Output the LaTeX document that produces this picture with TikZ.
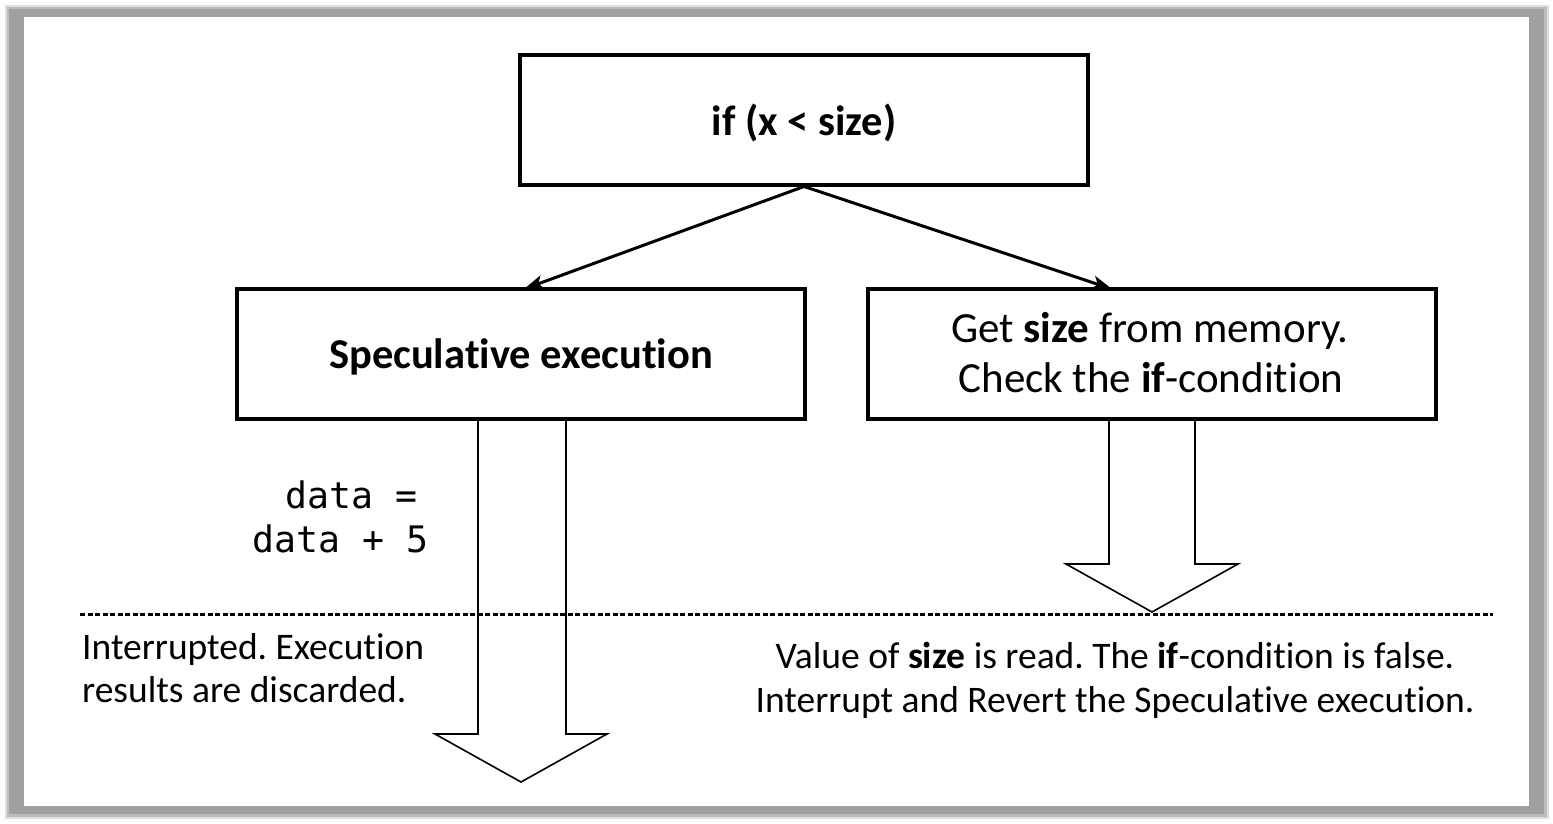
\documentclass[tikz,border=0pt]{standalone}
\usepackage{fontspec}
\setmainfont{Carlito}[Ligatures=NoCommon]
\newfontfamily\codefont{DejaVu Sans Mono}
\usetikzlibrary{arrows.meta,calc}
\definecolor{framegray}{RGB}{160,160,160}
\frenchspacing
\tikzset{
  box/.style={draw=black, line width=4pt, fill=white, minimum width=568pt, minimum height=130pt, inner sep=0pt},
  big/.style={font=\fontsize{43}{50}\selectfont},
  bigbold/.style={font=\fontsize{42.5}{50}\selectfont\bfseries},
  small/.style={font=\fontsize{37.5}{44}\selectfont},
  code/.style={font=\codefont\fontsize{36.5}{44}\selectfont, inner sep=0pt, anchor=base west},
  conn/.style={line width=3pt, -{Stealth[length=20pt,width=14pt,inset=5pt]}},
  blockarrow/.style={line width=1.6pt, line join=miter},
  sep/.style={line width=3pt, dash pattern=on 5pt off 2.5pt},
  txt/.style={inner sep=0pt, text=black}
}
\begin{document}
\begin{tikzpicture}[x=1pt,y=-1pt]
\useasboundingbox (0,0) rectangle (1553,823);
% frame with soft shadow
\fill[framegray!35] (5,5) rectangle (1549,819);
\fill[framegray!70] (7,7) rectangle (1547,817);
\fill[framegray] (9,9) rectangle (1544,814);
\fill[white] (24,17) rectangle (1529,806);

% boxes
\node[box] (cond) at (804,119.5) {};
\node[box] (spec) at (521,354) {};
\node[box] (check) at (1152,354) {};

% texts
\node[txt, bigbold, anchor=base] (condtxt) at (804,135) {if (x < size)};
\node[txt, bigbold, anchor=base] (spectxt) at (521,368) {Speculative execution};
\node[txt, big, anchor=base] (checka) at (1150,342) {Get \textbf{size} from memory.};
\node[txt, big, anchor=base] (checkb) at (1151,392) {Check the \textbf{if}-condition};

% connectors
\coordinate (lt) at (524,289);
\coordinate (rt) at (1112,289);
\draw[conn] (cond.south) -- (lt);
\draw[conn] (cond.south) -- (rt);

% block arrows
\coordinate (sb) at (spec.south);
\draw[blockarrow] ($(sb)+(-43,0)$) -- ($(sb)+(-43,313)$) -- ($(sb)+(-86,313)$) -- ($(sb)+(0,361)$) -- ($(sb)+(86,313)$) -- ($(sb)+(45,313)$) -- ($(sb)+(45,0)$);
\coordinate (cb) at (check.south);
\draw[blockarrow] ($(cb)+(-43,0)$) -- ($(cb)+(-43,143)$) -- ($(cb)+(-86,143)$) -- ($(cb)+(0,191)$) -- ($(cb)+(86,143)$) -- ($(cb)+(43,143)$) -- ($(cb)+(43,0)$);

% code
\node[code] (codea) at (285,508) {data =};
\node[code] (codeb) at (252,552) {data + 5};

% separator
\coordinate (sepl) at (80,614);
\coordinate (sepr) at (1493,614);
\draw[sep] (sepl) -- (sepr);

% lower texts
\node[txt, small, anchor=base west] (inta) at (82,659) {Interrupted. Execution};
\node[txt, small, anchor=base west] (intb) at (82,702) {results are discarded.};
\node[txt, small, anchor=base] (vala) at (1115,668) {Value of \textbf{size} is read. The \textbf{if}-condition is false.};
\node[txt, small, anchor=base] (valb) at (1115,712) {Interrupt and Revert the Speculative execution.};
\end{tikzpicture}
\end{document}
